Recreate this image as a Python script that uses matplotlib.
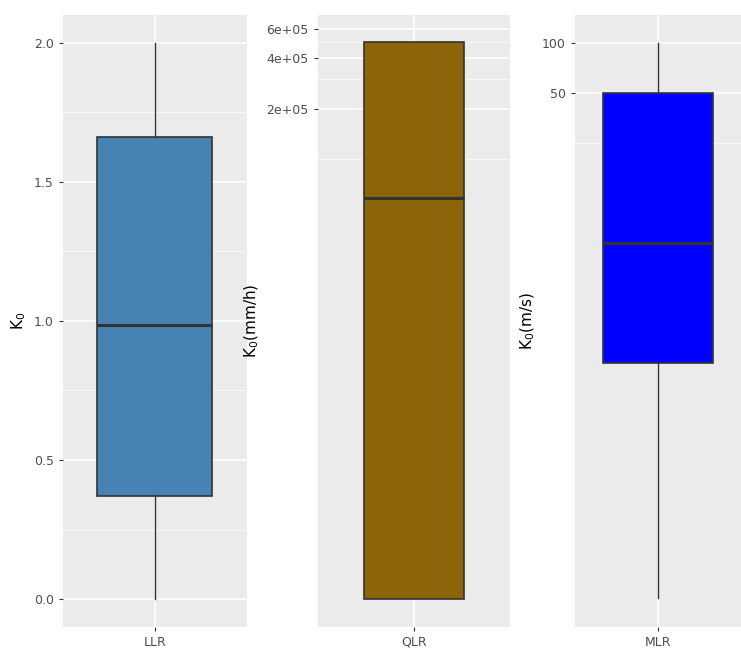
import matplotlib.pyplot as plt
import matplotlib.ticker as mticker

# box stats: (whislo, q1, med, q3, whishi)
llr = [0.0, 0.37, 0.985, 1.66, 2.0]
qlr = [233, 233, 5.8e4, 5.0e5, 5.0e5]
mlr = [0.045, 1.18, 6.2, 50, 100]

names = ['LLR', 'QLR', 'MLR']
stats = [llr, qlr, mlr]
colors = ['#4682B4', '#8B6508', '#0000FF']
ylabels = ['K$_0$', 'K$_0$(mm/h)', 'K$_0$(m/s)']

major = [[0.0, 0.5, 1.0, 1.5, 2.0], [2e5, 4e5, 6e5], [50, 100]]
major_lbl = [['0.0', '0.5', '1.0', '1.5', '2.0'],
             ['2e+05', '4e+05', '6e+05'], ['50', '100']]
minor = [[0.25, 0.75, 1.25, 1.75], [1e5, 3e5, 5e5], [25]]
ylims = [(-0.1, 2.1), (10 ** 2.199, 10 ** 5.862), (10 ** -1.52, 10 ** 2.17)]
logs = [False, True, True]
boxw = [0.75, 0.625, 0.8]

rects = [[0.085, 0.034, 0.248, 0.943],
         [0.429, 0.034, 0.259, 0.943],
         [0.776, 0.034, 0.224, 0.943]]

fig = plt.figure(figsize=(7.41, 6.49), dpi=100)

for i in range(3):
    ax = fig.add_axes(rects[i])
    ax.set_facecolor('#EBEBEB')
    if logs[i]:
        ax.set_yscale('log')
    lo, q1, med, q3, hi = stats[i]
    ax.bxp([dict(whislo=lo, q1=q1, med=med, q3=q3, whishi=hi, fliers=[])],
           positions=[1], widths=boxw[i], patch_artist=True,
           showcaps=False,
           boxprops=dict(facecolor=colors[i], edgecolor='#333333', linewidth=1.2),
           medianprops=dict(color='#333333', linewidth=2.2),
           whiskerprops=dict(color='#333333', linewidth=1))
    ax.set_xlim(0.4, 1.6)
    ax.set_ylim(*ylims[i])
    ax.set_xticks([1])
    ax.set_xticklabels([names[i]])
    ax.yaxis.set_major_locator(mticker.FixedLocator(major[i]))
    ax.yaxis.set_major_formatter(mticker.FixedFormatter(major_lbl[i]))
    ax.yaxis.set_minor_locator(mticker.FixedLocator(minor[i]))
    ax.yaxis.set_minor_formatter(mticker.NullFormatter())
    ax.grid(True, which='major', color='white', linewidth=1.1)
    ax.grid(True, which='minor', axis='y', color='white', linewidth=0.5)
    ax.set_axisbelow(True)
    for s in ax.spines.values():
        s.set_visible(False)
    ax.tick_params(which='major', colors='#333333', labelcolor='#4D4D4D',
                   labelsize=9, length=3)
    ax.tick_params(which='minor', length=0)
    ax.set_ylabel(ylabels[i], fontsize=11)

fig.savefig('out.png', dpi=100)
